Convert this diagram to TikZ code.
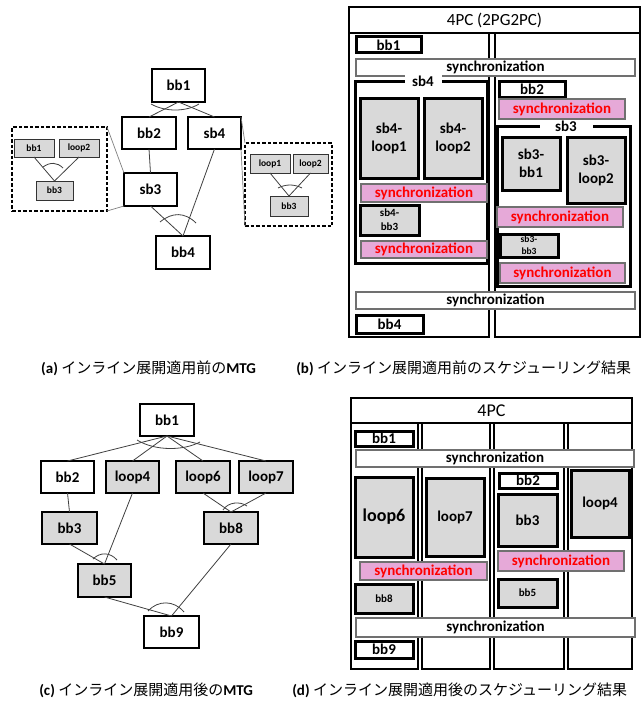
\documentclass[tikz,border=0pt]{standalone}
\usepackage{fontspec}
\setmainfont{Carlito}
\newfontfamily\jp{Noto Sans CJK JP}
\definecolor{boxgray}{HTML}{D9D9D9}
\definecolor{syncpink}{HTML}{E6A9D8}
\definecolor{syncedge}{HTML}{707070}
\definecolor{edgegray}{HTML}{404040}
\tikzset{
 every node/.style={inner sep=0pt, outer sep=0pt},
 gn/.style={draw, line width=1.5pt, fill=white, font=\fontsize{15}{18}\selectfont\bfseries},
 gg/.style={gn, fill=boxgray},
 sm/.style={draw=black!80, line width=0.9pt, fill=boxgray, font=\fontsize{9.5}{11}\selectfont\bfseries},
 dbox/.style={draw, line width=1.2pt, dash pattern=on 3.5pt off 2pt},
 link/.style={draw=edgegray, line width=0.8pt},
 andarc/.style={draw=edgegray, line width=0.8pt},
 zoomln/.style={draw=gray, line width=0.7pt},
 tb/.style={draw, line width=3pt, fill=white, font=\fontsize{15}{18}\selectfont\bfseries, align=center},
 tg/.style={tb, fill=boxgray},
 frm/.style={draw, line width=2.7pt},
 syw/.style={draw=syncedge, line width=1.5pt, fill=white, font=\fontsize{15}{18}\selectfont\bfseries},
 syp/.style={syw, fill=syncpink, text=red},
 cont/.style={draw, line width=3pt},
 clabel/.style={fill=white, inner ysep=1pt, font=\fontsize{15}{18}\selectfont\bfseries},
 captxt/.style={font=\fontsize{15}{18}\selectfont},
}
% \placebox{name}{style}{x1}{y1}{x2}{y2}{text}
\newcommand\placebox[7]{\node[#2, minimum width={(#5)-(#3)}, minimum height={(#6)-(#4)}] (#1) at ({((#3)+(#5))/2},{((#4)+(#6))/2}) {#7};}
\begin{document}
\begin{tikzpicture}[x=1pt,y=-1pt]
\useasboundingbox[fill=white] (0,0) rectangle (644,701);

% ---------------- (a) MTG before inlining ----------------
\placebox{dashL}{dbox}{12}{127}{107}{211}{}
\placebox{dashR}{dbox}{245}{143}{332}{226}{}
\placebox{abb1}{gn}{152}{69}{205}{102}{bb1}
\placebox{abb2}{gn}{122}{117}{176}{149}{bb2}
\placebox{asb4}{gn}{188}{117}{241}{149}{sb4}
\placebox{asb3}{gn}{124}{173}{177}{206}{sb3}
\placebox{abb4}{gn}{156}{236}{210}{269}{bb4}
\placebox{lbb1}{sm}{14}{139}{54}{157}{bb1}
\placebox{lloop2}{sm}{59}{139}{99}{157}{loop2}
\placebox{lbb3}{sm}{36}{181}{73}{200}{bb3}
\placebox{rloop1}{sm}{250}{154}{290}{173}{loop1}
\placebox{rloop2}{sm}{293}{154}{328}{173}{loop2}
\placebox{rbb3}{sm}{270}{196}{308}{216}{bb3}

\draw[link] (abb1.south) -- (abb2.north);
\draw[link] (abb1.south) -- (asb4.north);
\draw[link] (abb2.south) -- (asb3.north);
\draw[link] (asb3.south) -- (abb4.north);
\draw[link] (asb4.south) -- (abb4.north);
\draw[link] (lbb1.south) -- (lbb3.north);
\draw[link] (lloop2.south) -- (lbb3.north);
\draw[link] (rloop1.south) -- (rbb3.north);
\draw[link] (rloop2.south) -- (rbb3.north);
\draw[andarc] (151,104) .. controls (165,112) and (186,112) .. (199,104);
\draw[andarc] (160,222) .. controls (172,212) and (185,212) .. (196,223);
\draw[andarc] (43,167) .. controls (50,162) and (57,162) .. (63,168);
\draw[andarc] (278,188) .. controls (286,184) and (294,184) .. (302,188);
\draw[zoomln] (dashL.north east) -- (asb3.north west);
\draw[zoomln] (dashL.south east) -- (asb3.south west);
\draw[zoomln] (asb4.north east) -- (dashR.north west);
\draw[zoomln] (asb4.south east) -- (dashR.south west);

% ---------------- (b) schedule before inlining ----------------
\placebox{hdrB}{frm, font=\fontsize{17}{20}\selectfont}{349}{7}{640}{33}{4PC (2PG2PC)}
\placebox{colB1}{frm}{349}{33}{489}{337}{}
\placebox{colB2}{frm}{495}{33}{640}{337}{}
\placebox{bbb1}{tb}{356}{37}{421}{53}{bb1}
\placebox{bsync1}{syw}{356}{59}{635}{76}{synchronization}
\placebox{bsb4}{cont}{355}{81}{487}{263}{}
\node[clabel, minimum width=37] (bsb4lab) at (423,81) {sb4};
\placebox{bsb4l1}{tg}{360}{98}{418}{178}{sb4-\\loop1}
\placebox{bsb4l2}{tg}{424}{98}{482}{178}{sb4-\\loop2}
\placebox{bsync2}{syp}{361}{184}{487}{202}{synchronization}
\placebox{bsb4bb3}{tg, font=\fontsize{11}{14}\selectfont\bfseries}{360}{205}{419}{235}{sb4-\\bb3}
\placebox{bsync3}{syp}{361}{241}{487}{258}{synchronization}
\placebox{bbb2}{tb}{499}{81}{565}{97}{bb2}
\placebox{bsync4}{syp}{499}{99}{625}{119}{synchronization}
\placebox{bsb3}{cont}{497}{126}{630}{286}{}
\node[clabel, minimum width=53] (bsb3lab) at (566,126) {sb3};
\placebox{bsb3bb1}{tg}{502}{137}{560}{190}{sb3-\\bb1}
\placebox{bsb3l2}{tg}{567}{137}{625}{203}{sb3-\\loop2}
\placebox{bsync5}{syp}{497}{207}{623}{227}{synchronization}
\placebox{bsb3bb3}{tg, font=\fontsize{9.5}{12}\selectfont\bfseries}{500}{234}{558}{257}{sb3-\\bb3}
\placebox{bsync6}{syp}{500}{263}{625}{283}{synchronization}
\placebox{bsync7}{syw}{356}{292}{635}{309}{synchronization}
\placebox{bbb4}{tb}{356}{315}{423}{333}{bb4}

% ---------------- (c) MTG after inlining ----------------
\placebox{cbb1}{gn}{140}{404}{194}{436}{bb1}
\placebox{cbb2}{gn}{41}{461}{94}{493}{bb2}
\placebox{cloop4}{gg}{106}{461}{159}{493}{loop4}
\placebox{cloop6}{gg}{176}{461}{230}{493}{loop6}
\placebox{cloop7}{gg}{239}{461}{293}{493}{loop7}
\placebox{cbb3}{gg}{42}{512}{97}{544}{bb3}
\placebox{cbb8}{gg}{204}{512}{258}{544}{bb8}
\placebox{cbb5}{gg}{78}{564}{131}{597}{bb5}
\placebox{cbb9}{gn}{144}{616}{199}{648}{bb9}

\draw[link] (cbb1.south) -- (cbb2.north);
\draw[link] (cbb1.south) -- (cloop4.north);
\draw[link] (cbb1.south) -- (cloop6.north);
\draw[link] (cbb1.south) -- (cloop7.north);
\draw[link] (cbb2.south) -- (cbb3.north);
\draw[link] (cbb3.south) -- (cbb5.north);
\draw[link] (cloop4.south) -- (cbb5.north);
\draw[link] (cloop6.south) -- (cbb8.north);
\draw[link] (cloop7.south) -- (cbb8.north);
\draw[link] (cbb5.south) -- (cbb9.north);
\draw[link] (cbb8.south) -- (cbb9.north);
\draw[andarc] (137,440) .. controls (155,451) and (183,451) .. (200,442);
\draw[andarc] (93,559) .. controls (100,552) and (110,552) .. (117,560);
\draw[andarc] (223,510) .. controls (228,502) and (240,501) .. (247,506);
\draw[andarc] (148,611) .. controls (158,600) and (174,600) .. (184,612);

% ---------------- (d) schedule after inlining ----------------
\placebox{hdrD}{frm, font=\fontsize{18}{21}\selectfont}{351}{398}{632}{423}{4PC}
\placebox{colD1}{frm}{351}{423}{418}{669}{}
\placebox{colD2}{frm}{422}{423}{490}{669}{}
\placebox{colD3}{frm}{494}{423}{564}{669}{}
\placebox{colD4}{frm}{568}{423}{632}{669}{}
\placebox{dbb1}{tb}{355}{431}{413}{446}{bb1}
\placebox{dsync1}{syw}{356}{450}{634}{467}{synchronization}
\placebox{dloop6}{tg, font=\fontsize{18}{21}\selectfont\bfseries}{355}{477}{413}{557}{loop6}
\placebox{dloop7}{tg}{426}{478}{484}{556}{loop7}
\placebox{dbb2}{tb}{499}{473}{557}{488}{bb2}
\placebox{dbb3}{tg}{498}{494}{557}{546}{bb3}
\placebox{dloop4}{tg}{571}{470}{629}{537}{loop4}
\placebox{dsync2}{syp}{360}{562}{487}{580}{synchronization}
\placebox{dsync3}{syp}{498}{551}{624}{571}{synchronization}
\placebox{dbb8}{tg, font=\fontsize{11}{14}\selectfont\bfseries}{355}{584}{413}{613}{bb8}
\placebox{dbb5}{tg, font=\fontsize{11}{14}\selectfont\bfseries}{498}{579}{557}{607}{bb5}
\placebox{dsync4}{syw}{356}{618}{635}{637}{synchronization}
\placebox{dbb9}{tb}{355}{641}{413}{658}{bb9}

% ---------------- captions ----------------
\node[captxt, anchor=east] (capA) at (256,368) {\textbf{(a)} {\jp インライン展開適用前の}\textbf{MTG}};
\node[captxt, anchor=east] (capB) at (631,368) {\textbf{(b)} {\jp インライン展開適用前のスケジューリング結果}};
\node[captxt, anchor=east] (capC) at (253,690) {\textbf{(c)} {\jp インライン展開適用後の}\textbf{MTG}};
\node[captxt, anchor=east] (capD) at (627,690) {\textbf{(d)} {\jp インライン展開適用後のスケジューリング結果}};
\end{tikzpicture}
\end{document}
